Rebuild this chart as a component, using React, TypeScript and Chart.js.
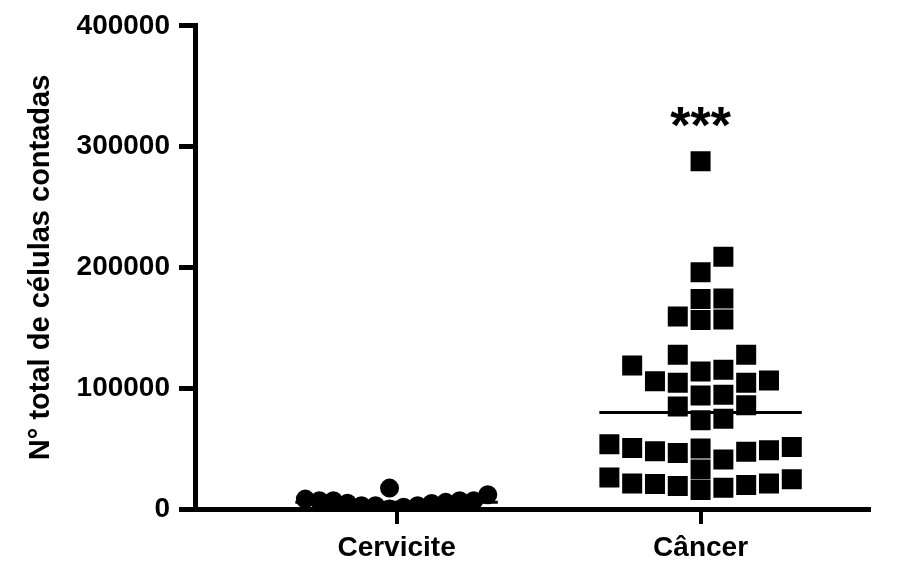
import { useEffect, useRef } from 'react';
import { Chart, registerables } from 'chart.js';

Chart.register(...registerables);

// Groups and measured totals (cells counted per sample)
const groups = ['Cervicite', 'Câncer'];
const cervicite = [4700, 17300, 2700, 11800, 0, 8200, 5500, 4500, 1400, 6800, 6800, 2700, 2700, 6800, 6800];
const cancer = [
  287800, 208900, 196000, 173800, 174300, 159400, 156500, 156900,
  118800, 127600, 127600, 105800, 115200, 113800, 106400, 104500, 104500,
  94000, 94600, 85800, 84900, 73400, 74800,
  53600, 47800, 41000, 46400, 50100, 48700, 50600, 51400, 47300,
  19800, 26100, 21200, 24700, 32700, 15700, 21200, 19000, 20600, 17600,
];
const yTicks = [0, 100000, 200000, 300000, 400000];
const yTitle = 'N° total de células contadas';
const significance = '***';

const FONT = '"Liberation Sans", Arial, Helvetica, sans-serif';
const W = 898;
const H = 563;
const AREA_LEFT = 195;
const AREA_RIGHT = 869;
const AREA_TOP = 24;
const AREA_BOTTOM = 509;
const Y_MAX = 400000;
const X_MIN = 0.337;
const X_MAX = 2.554;
const SPREAD = 0.6; // widest row of a column, in group units
const MAX_STEP = 0.075;
const MEDIAN_HALF = 0.333;
const SQUARE_PX = 20;
const CIRCLE_PX = 19;

const pxToValue = (px: number) => (px / (AREA_BOTTOM - AREA_TOP)) * Y_MAX;

// Simple column beeswarm: points sorted by value take the free slot nearest the centre.
function swarm(values: number[], center: number, symbolPx: number) {
  const threshold = pxToValue(symbolPx);
  const order = values.map((_, i) => i).sort((a, b) => values[a] - values[b]);
  const used = new Map<number, number[]>();
  const slotOf: number[] = new Array(values.length).fill(0);
  for (const i of order) {
    const v = values[i];
    for (let k = 0; k < 200; k++) {
      const s = k === 0 ? 0 : k % 2 === 1 ? (k + 1) / 2 : -k / 2;
      const list = used.get(s) || [];
      if (list.every((u) => Math.abs(u - v) >= threshold)) {
        list.push(v);
        used.set(s, list);
        slotOf[i] = s;
        break;
      }
    }
  }
  const lo = Math.min(...slotOf);
  const hi = Math.max(...slotOf);
  const step = hi > lo ? Math.min(MAX_STEP, SPREAD / (hi - lo)) : MAX_STEP;
  const mid = (lo + hi) / 2;
  return values.map((v, i) => ({ x: center + (slotOf[i] - mid) * step, y: v }));
}

function median(values: number[]) {
  const s = [...values].sort((a, b) => a - b);
  const n = s.length;
  return n % 2 ? s[(n - 1) / 2] : (s[n / 2 - 1] + s[n / 2]) / 2;
}

export default function App() {
  const ref = useRef<HTMLCanvasElement | null>(null);

  useEffect(() => {
    if (!ref.current) return;
    const series = [cervicite, cancer];
    const medianSets = series.map((vals, gi) => {
      const m = median(vals);
      return {
        type: 'line' as const,
        data: [
          { x: gi + 1 - MEDIAN_HALF, y: m },
          { x: gi + 1 + MEDIAN_HALF, y: m },
        ],
        borderColor: '#000',
        borderWidth: 3,
        pointRadius: 0,
        order: 2,
      };
    });

    const starPlugin = {
      id: 'significance',
      afterDatasetsDraw(chart: any) {
        const { ctx, scales } = chart;
        const x = scales.x.getPixelForValue(2);
        const y = scales.y.getPixelForValue(Math.max(...cancer)) - 18;
        ctx.save();
        ctx.fillStyle = '#000';
        ctx.font = `bold 52px ${FONT}`;
        ctx.textAlign = 'center';
        ctx.textBaseline = 'alphabetic';
        ctx.fillText(significance, x, y);
        ctx.restore();
      },
    };

    const tickFont = { family: FONT, size: 28, weight: 'bold' };

    const chart = new Chart(ref.current, {
      type: 'scatter',
      data: {
        datasets: [
          {
            label: groups[0],
            data: swarm(cervicite, 1, CIRCLE_PX),
            pointStyle: 'circle',
            pointRadius: CIRCLE_PX / 2,
            backgroundColor: '#000',
            borderWidth: 0,
            order: 1,
          },
          {
            label: groups[1],
            data: swarm(cancer, 2, SQUARE_PX),
            pointStyle: 'rect',
            pointRadius: SQUARE_PX / Math.SQRT2,
            backgroundColor: '#000',
            borderWidth: 0,
            order: 1,
          },
          ...medianSets,
        ] as any,
      },
      options: {
        animation: false,
        responsive: false,
        devicePixelRatio: 1,
        layout: { padding: { top: AREA_TOP, right: W - AREA_RIGHT, left: 0, bottom: 0 } },
        plugins: { legend: { display: false }, tooltip: { enabled: false } },
        scales: {
          x: {
            type: 'linear',
            min: X_MIN,
            max: X_MAX,
            afterBuildTicks: (s: any) => {
              s.ticks = groups.map((_, i) => ({ value: i + 1 }));
            },
            afterFit: (s: any) => {
              s.height = H - AREA_BOTTOM;
            },
            ticks: {
              callback: (v: any) => groups[Number(v) - 1] ?? '',
              color: '#000',
              font: tickFont,
              padding: 7,
              maxRotation: 0,
            },
            grid: {
              drawOnChartArea: false,
              drawTicks: true,
              tickLength: 15,
              lineWidth: 4,
              color: '#000',
            },
            border: { display: true, color: '#000', width: 5 },
          },
          y: {
            type: 'linear',
            min: 0,
            max: Y_MAX,
            afterBuildTicks: (s: any) => {
              s.ticks = yTicks.map((v) => ({ value: v }));
            },
            afterFit: (s: any) => {
              s.width = AREA_LEFT;
            },
            ticks: {
              callback: (v: any) => String(v),
              color: '#000',
              font: tickFont,
              padding: 9,
            },
            grid: {
              drawOnChartArea: false,
              drawTicks: true,
              tickLength: 16,
              lineWidth: 5,
              color: '#000',
            },
            border: { display: true, color: '#000', width: 5 },
            title: {
              display: true,
              text: yTitle,
              color: '#000',
              font: { family: FONT, size: 29, weight: 'bold' },
              padding: { top: 24, bottom: 0 },
            },
          },
        },
      } as any,
      plugins: [starPlugin],
    });

    return () => chart.destroy();
  }, []);

  return (
    <div style={{ position: 'absolute', left: 0, top: 0, width: W, height: H, background: '#fff' }}>
      <canvas ref={ref} width={W} height={H} />
    </div>
  );
}
